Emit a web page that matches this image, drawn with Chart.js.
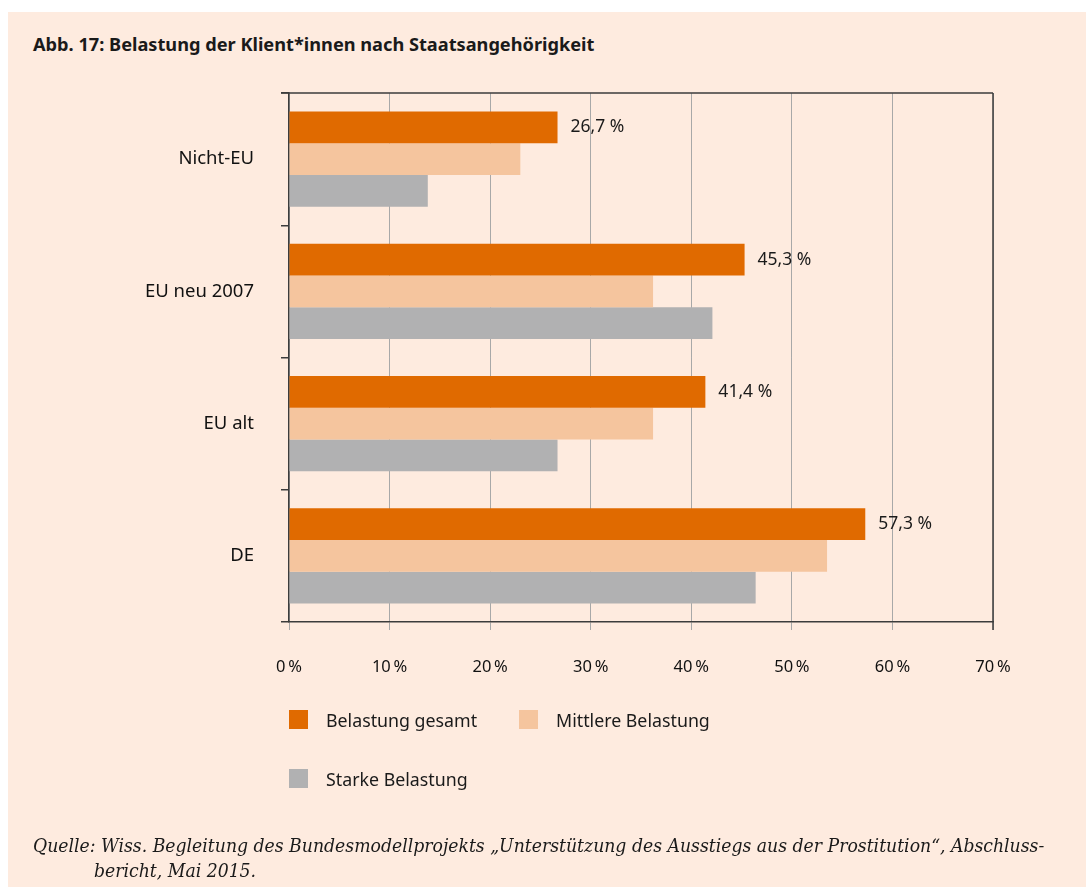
<!DOCTYPE html>
<html lang="de">
<head>
<meta charset="utf-8">
<title>Abb. 17: Belastung der Klient*innen nach Staatsangehörigkeit</title>
<script src="https://cdn.jsdelivr.net/npm/chart.js@4/dist/chart.umd.min.js"></script>
<style>
    html, body { margin: 0; padding: 0; background: #ffffff; }
    body { width: 1086px; height: 894px; position: relative; overflow: hidden; font-family: "Noto Sans", sans-serif; color: #1a1a1a; }
    .panel { position: absolute; left: 8px; top: 12px; width: 1078px; height: 875px; background: #feebdf; }
    .title { position: absolute; left: 33px; top: 32px; font-size: 18.2px; font-weight: bold; line-height: 24px; }
    .chart-box { position: absolute; left: 0; top: 55px; width: 1086px; height: 645px; }
    .legend { position: absolute; left: 0; top: 0; width: 1086px; height: 894px; pointer-events: none; }
    .legend .item { position: absolute; display: flex; align-items: center; font-size: 17.8px; }
    .legend .box { width: 19px; height: 19px; margin-right: 18px; }
    .source { position: absolute; left: 33px; top: 833px; font-family: "DejaVu Serif", serif; font-style: italic; font-stretch: condensed; font-size: 19.2px; line-height: 25px; padding-left: 61px; text-indent: -61px; white-space: nowrap; }
</style>
</head>
<body>
<div class="panel"></div>
<div class="title">Abb. 17: Belastung der Klient*innen nach Staatsangehörigkeit</div>
<div class="chart-box"><canvas id="chart" width="1086" height="645"></canvas></div>
<div class="legend" id="legend"></div>
<div class="source">Quelle: Wiss. Begleitung des Bundesmodellprojekts „Unterstützung des Ausstiegs aus der Prostitution“, Abschluss-<br>bericht, Mai 2015.</div>

<script>
// ==================== DATA ====================
const categories = ['Nicht-EU', 'EU neu 2007', 'EU alt', 'DE'];
const seriesNames = ['Belastung gesamt', 'Mittlere Belastung', 'Starke Belastung'];
const gesamt = [26.7, 45.3, 41.4, 57.3];
const mittlere = [23.0, 36.2, 36.2, 53.5];
const starke = [13.8, 42.1, 26.7, 46.4];
const xTicks = [0, 10, 20, 30, 40, 50, 60, 70];

const colors = ['#e06a00', '#f5c59e', '#b1b1b2'];
const axisDark = '#3c3c3c';

// ==================== PLUGINS ====================
// top + right frame of the plot
const framePlugin = {
    id: 'frame',
    afterDraw(chart) {
        const { ctx, chartArea } = chart;
        ctx.save();
        ctx.strokeStyle = axisDark;
        ctx.lineWidth = 1.5;
        ctx.beginPath();
        ctx.moveTo(chartArea.left - 8, chartArea.top);
        ctx.lineTo(chartArea.right, chartArea.top);
        ctx.moveTo(chartArea.right, chartArea.top);
        ctx.lineTo(chartArea.right, chartArea.bottom + 8);
        ctx.stroke();
        ctx.restore();
    }
};

// value labels on the first series only
const valueLabels = {
    id: 'valueLabels',
    afterDatasetsDraw(chart) {
        const { ctx } = chart;
        const meta = chart.getDatasetMeta(0);
        ctx.save();
        ctx.font = '17.5px "Noto Sans", sans-serif';
        ctx.fillStyle = '#1a1a1a';
        ctx.textAlign = 'left';
        ctx.textBaseline = 'middle';
        meta.data.forEach((bar, i) => {
            const v = chart.data.datasets[0].data[i];
            ctx.fillText(v.toFixed(1).replace('.', ',') + ' %', bar.x + 13, bar.y);
        });
        ctx.restore();
    }
};

// ==================== CHART ====================
const chart = new Chart(document.getElementById('chart'), {
    type: 'bar',
    data: {
        labels: categories,
        datasets: [
            { label: seriesNames[0], data: gesamt, backgroundColor: colors[0] },
            { label: seriesNames[1], data: mittlere, backgroundColor: colors[1] },
            { label: seriesNames[2], data: starke, backgroundColor: colors[2] }
        ]
    },
    options: {
        indexAxis: 'y',
        responsive: false,
        animation: false,
        devicePixelRatio: 1,
        barPercentage: 1,
        categoryPercentage: 0.72,
        layout: { padding: { top: 12, right: 93, left: 0, bottom: 0 } },
        plugins: { legend: { display: false }, tooltip: { enabled: false } },
        scales: {
            x: {
                min: 0,
                max: 70,
                afterBuildTicks: (scale) => { scale.ticks = xTicks.map(v => ({ value: v })); },
                afterFit: (scale) => { scale.height = 78; },
                ticks: {
                    callback: (v) => v + '\u202F%',
                    font: { family: '"Noto Sans", sans-serif', size: 16.5 },
                    color: '#111111',
                    padding: 27,
                    maxRotation: 0
                },
                grid: { color: '#a8a8a8', lineWidth: 1, tickLength: 8 },
                border: { color: axisDark, width: 1.5 }
            },
            y: {
                afterFit: (scale) => { scale.width = 289; },
                ticks: {
                    font: { family: '"Noto Sans", sans-serif', size: 18.5 },
                    color: '#111111',
                    padding: 27
                },
                grid: { drawOnChartArea: false, color: axisDark, lineWidth: 1.5, tickLength: 8, offset: true },
                border: { color: axisDark, width: 1.5 }
            }
        }
    },
    plugins: [framePlugin, valueLabels]
});

// ==================== LEGEND ====================
const legendPos = [[289, 710], [519, 710], [289, 769]];
const legendEl = document.getElementById('legend');
seriesNames.forEach((name, i) => {
    const item = document.createElement('div');
    item.className = 'item';
    item.style.left = legendPos[i][0] + 'px';
    item.style.top = (legendPos[i][1] - 3) + 'px';
    item.style.height = '25px';
    item.innerHTML = `<span class="box" style="background:${colors[i]}"></span><span>${name}</span>`;
    legendEl.appendChild(item);
});
</script>
</body>
</html>
